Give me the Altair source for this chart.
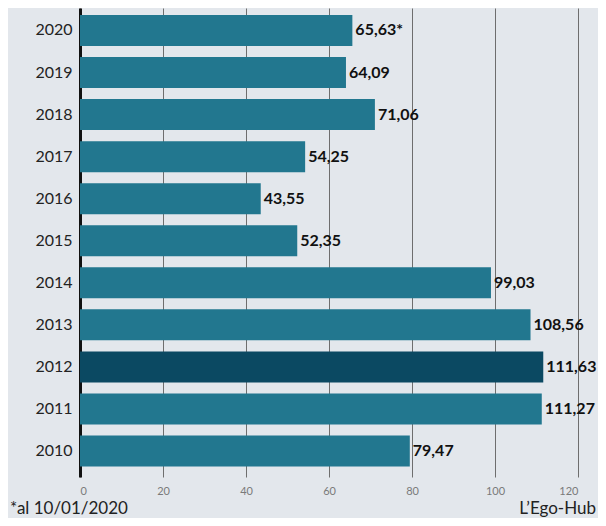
import altair as alt
import pandas as pd

years = ["2020", "2019", "2018", "2017", "2016", "2015", "2014", "2013", "2012", "2011", "2010"]
values = [65.63, 64.09, 71.06, 54.25, 43.55, 52.35, 99.03, 108.56, 111.63, 111.27, 79.47]
notes = ["*", "", "", "", "", "", "", "", "", "", ""]
x_ticks = [0, 20, 40, 60, 80, 100, 120]
footnote_left = "*al 10/01/2020"
footnote_right = "L\u2019Ego-Hub"

df = pd.DataFrame({
    "year": years,
    "value": values,
    "label": [f"{v:.2f}".replace(".", ",") + n for v, n in zip(values, notes)],
})

BG = "#e3e7ec"
BAR = "#22778f"
DARK = "#0b4962"
FONT = "Lato"

y_enc = alt.Y("year:N", sort=years,
              scale=alt.Scale(paddingInner=0.263, paddingOuter=0.208, align=0.4),
              axis=alt.Axis(title=None, domain=True, domainColor="#111111", domainWidth=3,
                            ticks=False, labelPadding=8, labelFont=FONT, labelFontSize=16,
                            labelColor="#222222", grid=False))
x_enc = alt.X("value:Q", scale=alt.Scale(domain=[0, 120], nice=False),
              axis=alt.Axis(title=None, values=x_ticks, grid=True, gridColor="#6e6e6e",
                            gridWidth=1, ticks=False, domain=False, labelFont=FONT,
                            labelFontSize=11, labelColor="#7a7a7a", labelPadding=8))

base = alt.Chart(df)

bars = base.mark_bar().encode(
    y=y_enc,
    x=x_enc,
    color=alt.condition(alt.datum.year == "2012", alt.value(DARK), alt.value(BAR)),
)

texts = base.mark_text(align="left", baseline="middle", dx=3, font=FONT, fontSize=16,
                       fontWeight="bold", color="#111111").encode(
    y=alt.Y("year:N", sort=years),
    x="value:Q",
    text="label:N",
)

foot_df = pd.DataFrame({"t": [footnote_left]})
foot_left = alt.Chart(foot_df).mark_text(align="left", baseline="alphabetic", font=FONT,
                                         fontSize=17, color="#222222").encode(
    x=alt.value(-70), y=alt.value(506), text="t:N")
foot_df2 = pd.DataFrame({"t": [footnote_right]})
foot_right = alt.Chart(foot_df2).mark_text(align="right", baseline="alphabetic", font=FONT,
                                           fontSize=17, color="#222222").encode(
    x=alt.value(516), y=alt.value(506), text="t:N")

chart = alt.layer(bars, texts, foot_left, foot_right).properties(
    width=498, height=469,
    background=BG,
    padding={"left": 72, "top": 0, "right": 20, "bottom": 41},
    autosize=alt.AutoSizeParams(type="none"),
).configure_view(stroke=None)

chart.save("out.html", embed_options={"renderer": "svg", "actions": False})
